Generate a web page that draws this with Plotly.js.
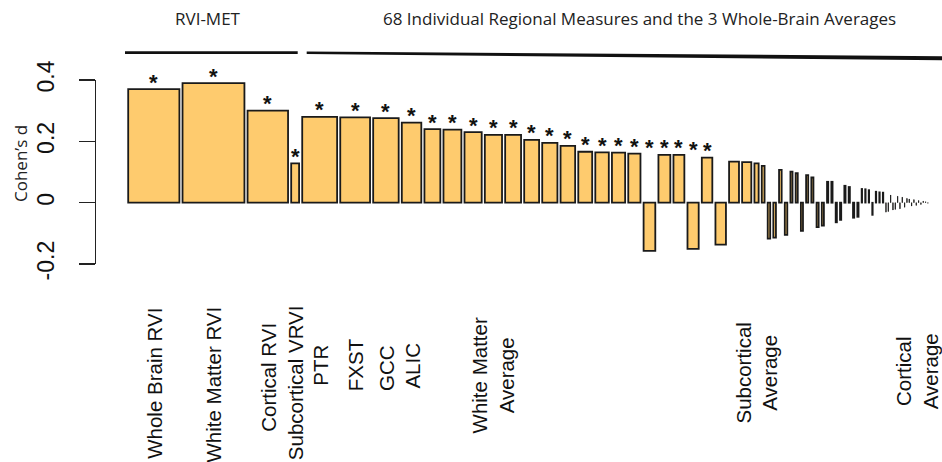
<!DOCTYPE html>
<html><head><meta charset="utf-8">
<script src="https://cdn.plot.ly/plotly-3.0.1.min.js"></script>
<style>html,body{margin:0;padding:0;background:#fff;} #chart{width:942px;height:462px;}</style>
</head><body><div id="chart"></div>
<script>
// ---- data ----
const cohensD = [
  0.370, 0.390, 0.300, 0.128,
  0.280, 0.278, 0.276, 0.261, 0.240, 0.238, 0.230, 0.221, 0.221, 0.205,
  0.195, 0.185, 0.166, 0.164, 0.163, 0.160, -0.157, 0.156, 0.156, -0.151,
  0.147, -0.137, 0.134, 0.132, 0.128, 0.120, -0.117, -0.114, 0.107, -0.105,
  0.101, 0.096, -0.092, 0.090, 0.082, -0.080, -0.075, 0.068, 0.068, -0.064,
  -0.056, 0.055, 0.051, -0.049, -0.046, 0.045, 0.044, 0.041, -0.040, 0.036,
  0.034, 0.033, -0.031, -0.029, 0.025, -0.024, -0.022, 0.021, -0.020, 0.018,
  -0.015, 0.014, 0.012, -0.011, 0.010, -0.009, 0.007, -0.006, 0.005, 0.003,
  -0.002
];
// relative bar widths (as drawn in the original barplot)
const barWidths = [
  53, 63.7, 42.3, 9.7,
  36.7, 31.6, 27.3, 21.3, 17.7, 19.7, 19, 19, 17.7, 16.7,
  17, 16.4, 15.7, 15.3, 15, 14, 13.5, 13.7, 12.7, 13,
  12.3, 12.3, 11.7, 11, 6, 4.6, 4.3, 4.4, 4.4, 4.3,
  3.9, 3.9, 3.9, 3.9, 3.9, 3.9, 3.9, 3.0, 3.0, 3.0,
  3.0, 3.0, 3.0, 3.0, 3.0, 2.2, 2.2, 2.2, 2.2, 2.2,
  2.2, 2.2, 1.0, 1.0, 1.0, 1.0, 1.0, 1.0, 1.0, 1.0,
  1.0, 1.0, 1.0, 1.0, 1.0, 1.0, 1.0, 1.0, 1.0, 1.0,
  1.0
];
const significant = [
  1,1,1,1,
  1,1,1,1,1,1,1,1,1,1,
  1,1,1,1,1,1,1,1,1,1,
  1,0,0,0,0,0,0,0,0,0,
  0,0,0,0,0,0,0,0,0,0,
  0,0,0,0,0,0,0,0,0,0,
  0,0,0,0,0,0,0,0,0,0,
  0,0,0,0,0,0,0,0,0,0,
  0
];
const labelTexts = ['Whole Brain RVI','White Matter RVI','Cortical RVI','Subcortical VRVI',
  'PTR','FXST','GCC','ALIC','White Matter<br>Average','Subcortical<br>Average','Cortical<br>Average'];
const labelBars = [0,1,2,3,4,5,6,7,11,28,72];
const groupTitles = ['RVI-MET','68 Individual Regional Measures and the 3 Whole-Brain Averages'];
const yTickVals = [-0.2, 0, 0.2, 0.4];
const yTickText = ['-0.2','0','0.2','0.4'];
const yAxisTitle = 'Cohen\u2019s d';

// ---- geometry / style ----
const W = 942, H = 462;
const M = {l:96, r:2, t:80, b:198};
const plotW = W - M.l - M.r, plotH = H - M.t - M.b;
const GAP = 1.33;
const FILL = '#fecb6e', EDGE = '#1a1a1a';
const px2px = x => (x - M.l) / plotW;          // page px -> paper x
const py2py = y => (M.t + plotH - y) / plotH;  // page px -> paper y

const lefts = []; let cur = 0;
barWidths.forEach(w => { lefts.push(cur); cur += w + GAP; });
const centers = lefts.map((l, i) => l + barWidths[i] / 2);
const lineW = barWidths.map(w => Math.max(0.9, Math.min(1.8, w * 0.7)));
const drawnW = barWidths.map((w, i) => Math.max(w - lineW[i], 0.1));

const bars = {
  type: 'bar', x: centers, y: cohensD, width: drawnW,
  marker: {color: FILL, line: {color: EDGE, width: lineW}},
  hoverinfo: 'skip', showlegend: false
};

const annotations = [];
significant.forEach((s, i) => {
  if (s) annotations.push({text: '*', x: centers[i], xref: 'x', y: Math.abs(cohensD[i]), yref: 'y',
    yshift: 7, xanchor: 'center', yanchor: 'middle', showarrow: false,
    font: {family: 'Liberation Sans, Arial', size: 22, color: '#111', weight: 'bold'}});
});

const labelY = [383, 384, 377, 383, 365, 365, 368, 366, 375, 373, 371];
const labelShift = [0, 0, 0, 0, 0, 0, 0, 0, 0, 0, -6];
labelTexts.forEach((t, k) => annotations.push({
  text: t, x: centers[labelBars[k]], xref: 'x', xshift: labelShift[k], y: py2py(labelY[k]), yref: 'paper',
  xanchor: 'center', yanchor: 'middle', textangle: -90, showarrow: false, align: 'center',
  font: {family: 'Liberation Sans, Arial', size: 20.5, color: '#111'}
}));
annotations.push({text: groupTitles[0], x: px2px(208), y: py2py(19), xref: 'paper', yref: 'paper',
  xanchor: 'center', yanchor: 'middle', showarrow: false,
  font: {family: 'Open Sans', size: 17, color: '#222'}});
annotations.push({text: groupTitles[1], x: px2px(639), y: py2py(19), xref: 'paper', yref: 'paper',
  xanchor: 'center', yanchor: 'middle', showarrow: false,
  font: {family: 'Open Sans', size: 17, color: '#222'}});
annotations.push({text: yAxisTitle, x: px2px(20), y: py2py(164), xref: 'paper', yref: 'paper',
  xanchor: 'center', yanchor: 'middle', textangle: -90, showarrow: false,
  font: {family: 'Open Sans', size: 17, color: '#222'}});

const shapes = [
  {type: 'line', xref: 'paper', yref: 'paper', x0: px2px(125), x1: px2px(297.7),
   y0: py2py(52.7), y1: py2py(52.7), line: {color: '#111', width: 2.7}},
  {type: 'path', xref: 'paper', yref: 'paper', fillcolor: '#111', line: {width: 0},
   path: `M ${px2px(306.7)} ${py2py(51.4)} L ${px2px(942)} ${py2py(56.2)} L ${px2px(942)} ${py2py(60.2)} L ${px2px(306.7)} ${py2py(54.0)} Z`}
];

const layout = {
  width: W, height: H, margin: M, paper_bgcolor: '#fff', plot_bgcolor: '#fff',
  barmode: 'overlay', showlegend: false,
  xaxis: {range: [-31.3, plotW - 31.3], visible: false, fixedrange: true},
  yaxis: {range: [-0.2, 0.4], tickvals: yTickVals, ticktext: yTickText, tickangle: -90,
    ticks: 'outside', ticklen: 16, tickwidth: 1.5, tickcolor: '#222',
    showline: true, linewidth: 1.5, linecolor: '#222', showgrid: false, zeroline: false,
    ticklabelstandoff: 15,
    tickfont: {family: 'Liberation Sans, Arial', size: 23, color: '#111'}, fixedrange: true},
  annotations: annotations, shapes: shapes
};
Plotly.newPlot('chart', [bars], layout, {staticPlot: true, displayModeBar: false});
</script></body></html>
